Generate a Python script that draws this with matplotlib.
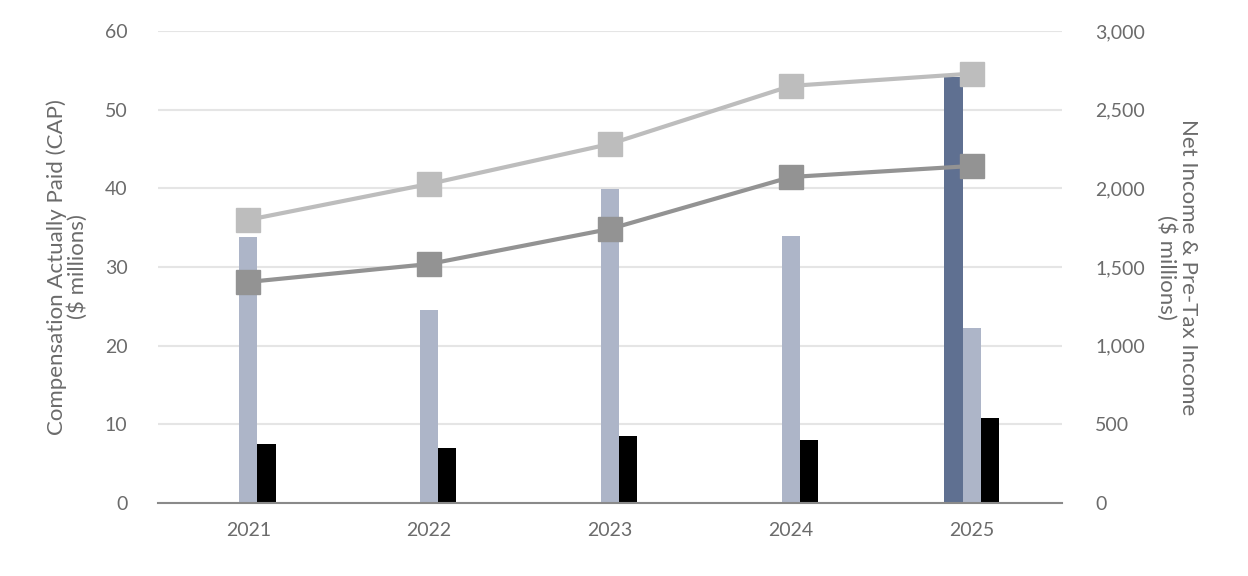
import matplotlib
matplotlib.use("Agg")
import matplotlib.pyplot as plt
import numpy as np

years = ["2021", "2022", "2023", "2024", "2025"]
cap_peo_new = [0, 0, 0, 0, 54.1]
cap_peo = [33.8, 24.5, 39.9, 33.9, 22.2]
cap_neo = [7.5, 7.0, 8.5, 8.0, 10.8]
pretax_income = [1800, 2028, 2282, 2651, 2729]
net_income = [1405, 1519, 1742, 2072, 2142]

plt.rcParams['font.family'] = ['Lato', 'DejaVu Sans']
txt = '#6b6b6b'

fig = plt.figure(figsize=(12.48, 5.76), dpi=100)
ax = fig.add_axes([158/1248, 1 - 503/576, (1062-158)/1248, (503-31)/576])
ax2 = ax.twinx()

x = np.arange(len(years))
w = 0.1
ax.bar(x - w, cap_peo_new, w, color='#5F7091', zorder=2)
ax.bar(x, cap_peo, w, color='#ADB5C8', zorder=2)
ax.bar(x + w, cap_neo, w, color='#000000', zorder=2)

ax.set_ylim(0, 60)
ax.set_yticks(range(0, 61, 10))
ax.set_xlim(-0.5, len(years) - 0.5)
ax.set_xticks(x)
ax.set_xticklabels(years)
ax.grid(axis='y', color='#E5E5E5', linewidth=1.5, zorder=0)
ax.set_axisbelow(True)

ax2.plot(x, pretax_income, color='#BDBDBD', linewidth=3, marker='s', markersize=17, zorder=3)
ax2.plot(x, net_income, color='#939393', linewidth=3, marker='s', markersize=17, zorder=3)
ax2.set_ylim(0, 3000)
ax2.set_yticks(range(0, 3001, 500))
ax2.set_yticklabels([f"{v:,}" for v in range(0, 3001, 500)])

for a in (ax, ax2):
    for s in a.spines.values():
        s.set_visible(False)
    a.tick_params(length=0, colors=txt, labelsize=14)
ax.spines['bottom'].set_visible(True)
ax.spines['bottom'].set_color('#8a8a8a')
ax.spines['bottom'].set_linewidth(1.5)
ax.tick_params(axis='x', pad=14)
ax.tick_params(axis='y', pad=22)
ax2.tick_params(axis='y', pad=24)

ax.set_ylabel("Compensation Actually Paid (CAP)\n($ millions)", color=txt, fontsize=16,
              labelpad=12, linespacing=1.05)
ax2.set_ylabel("Net Income & Pre-Tax Income\n($ millions)", color=txt, fontsize=16,
               rotation=270, labelpad=38, linespacing=1.05)

fig.savefig("out.png", dpi=100)
